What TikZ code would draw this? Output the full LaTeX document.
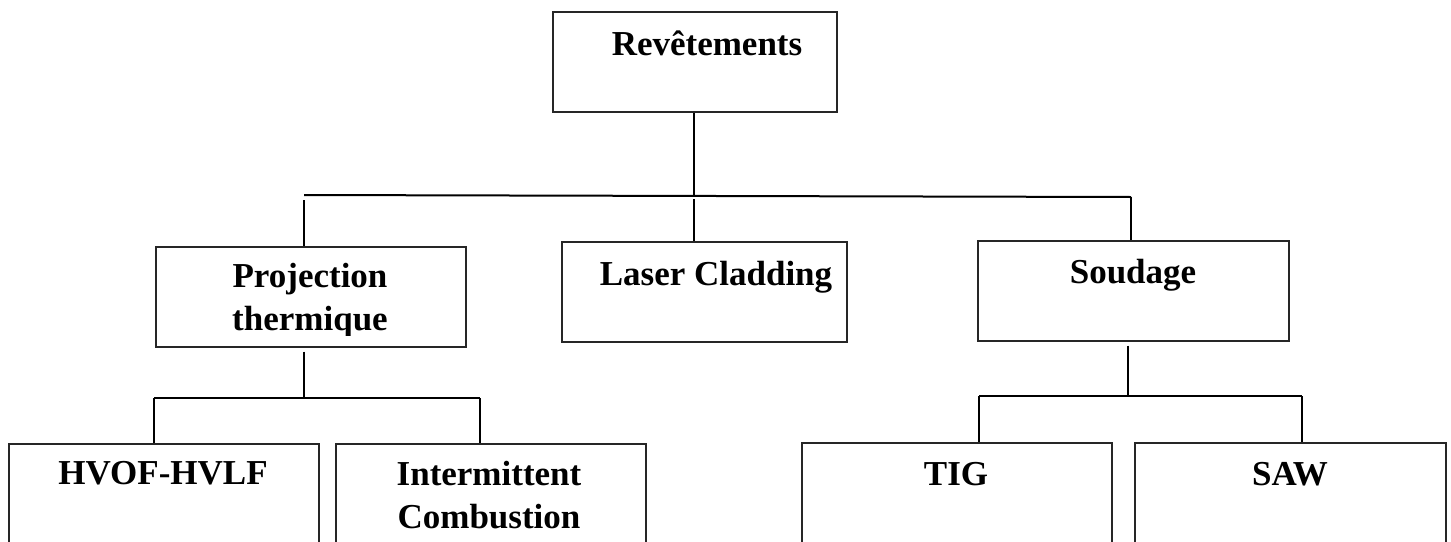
\documentclass[tikz,border=0pt]{standalone}
\usepackage{fontspec}
\setmainfont{Liberation Serif}
\begin{document}
\begin{tikzpicture}[x=1pt,y=-1pt,
  box/.style={draw=black!85,line width=1.5pt,fill=white},
  wire/.style={draw=black,line width=2pt},
  lbl/.style={inner sep=0pt,anchor=base,font=\fontsize{35}{43}\selectfont\bfseries,align=center}]
\useasboundingbox (0,0) rectangle (1451,541);
\clip (0,0) rectangle (1451,541);

% boxes
\node[box,minimum width=284pt,minimum height=100pt,anchor=north west] (rev)   at (552,11)  {};
\node[box,minimum width=310pt,minimum height=100pt,anchor=north west] (proj)  at (155,246) {};
\node[box,minimum width=285pt,minimum height=100pt,anchor=north west] (laser) at (561,241) {};
\node[box,minimum width=311pt,minimum height=100pt,anchor=north west] (soud)  at (977,240) {};
\node[box,minimum width=310pt,minimum height=130pt,anchor=north west] (hvof)  at (8,443)   {};
\node[box,minimum width=310pt,minimum height=130pt,anchor=north west] (inter) at (335,443) {};
\node[box,minimum width=310pt,minimum height=130pt,anchor=north west] (tig)   at (801,442) {};
\node[box,minimum width=311pt,minimum height=130pt,anchor=north west] (saw)   at (1134,442) {};

% labels
\node[lbl] (trev) at (707,55) {Revêtements};
\begin{scope}
  \clip (155,246) rectangle (465,335);
  \node[lbl] (tproj1) at (310,287) {Projection};
  \node[lbl] (tproj2) at (310,330) {thermique};
\end{scope}
\node[lbl] (tlaser) at (716,285) {Laser Cladding};
\node[lbl] (tsoud)  at (1133,283) {Soudage};
\node[lbl] (thvof)  at (163,484) {HVOF-HVLF};
\node[lbl] (tint1)  at (489,485) {Intermittent};
\node[lbl] (tint2)  at (489,528) {Combustion};
\node[lbl] (ttig)   at (956,485) {TIG};
\node[lbl] (tsaw)   at (1290,485) {SAW};

% top-level tree
\coordinate (trunk) at (694,195);
\coordinate (busL)  at (304,195);
\coordinate (busR)  at (1131,197);
\draw[wire] (rev.south -| trunk) -- (trunk);
\draw[wire] (busL) -- (busR);
\draw[wire] ([yshift=-5pt]busL) -- (busL |- proj.north);
\draw[wire] ([yshift=-4pt]trunk) -- (trunk |- laser.north);
\draw[wire] (busR) -- (busR |- soud.north);

% thermal spraying branch
\coordinate (pstem) at (304,398);
\coordinate (pbL)   at (154,398);
\coordinate (pbR)   at (480,398);
\draw[wire] ([yshift=-4pt]pstem |- proj.south) -- (pstem);
\draw[wire] (pbL) -- (pbR);
\draw[wire] (pbL) -- (pbL |- hvof.north);
\draw[wire] (pbR) -- (pbR |- inter.north);

% welding branch
\coordinate (sstem) at (1128,396);
\coordinate (sbL)   at (979,396);
\coordinate (sbR)   at (1302,396);
\draw[wire] ([yshift=-4pt]sstem |- soud.south) -- (sstem);
\draw[wire] (sbL) -- (sbR);
\draw[wire] (sbL) -- (sbL |- tig.north);
\draw[wire] (sbR) -- (sbR |- saw.north);
\end{tikzpicture}
\end{document}
